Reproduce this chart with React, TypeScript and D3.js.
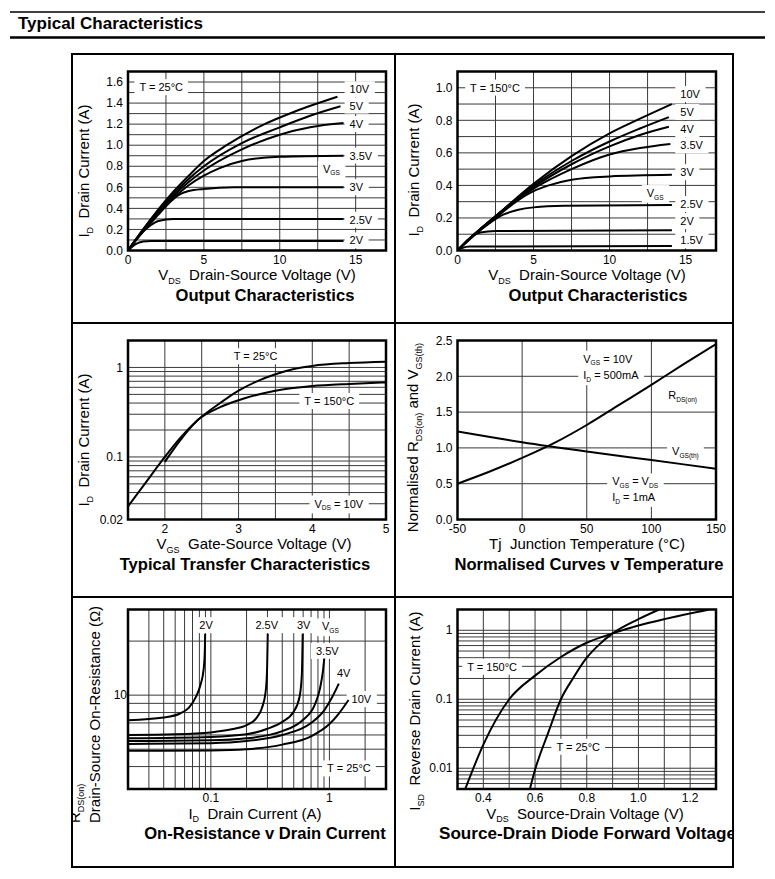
import React, { useRef, useEffect } from 'react';
import * as d3 from 'd3';

type Pt = [number, number];

// Output characteristics, T = 25°C : VDS (V) -> ID (A), one curve per VGS
const out25Vgs = ['10V', '5V', '4V', '3.5V', '3V', '2.5V', '2V'];
const out25_10V: Pt[] = [[0, 0], [1, 0.2], [2, 0.39], [3, 0.56], [4, 0.71], [5, 0.85], [6.5, 1.0], [9, 1.2], [11, 1.32], [13.8, 1.46]];
const out25_5V: Pt[] = [[0, 0], [1, 0.2], [2, 0.38], [3, 0.54], [4, 0.68], [5, 0.8], [7.5, 1.02], [10, 1.17], [12, 1.28], [14, 1.37]];
const out25_4V: Pt[] = [[0, 0], [1, 0.19], [2, 0.37], [3, 0.52], [4, 0.65], [5, 0.76], [7.5, 0.96], [10, 1.1], [12, 1.17], [14.2, 1.21]];
const out25_3V5: Pt[] = [[0, 0], [1, 0.19], [2, 0.36], [3, 0.5], [4, 0.62], [5, 0.71], [6, 0.78], [7.5, 0.85], [10, 0.89], [14.2, 0.9]];
const out25_3V: Pt[] = [[0, 0], [1, 0.18], [2, 0.34], [2.5, 0.42], [3, 0.49], [3.5, 0.54], [4, 0.565], [5, 0.585], [7, 0.6], [14.2, 0.6]];
const out25_2V5: Pt[] = [[0, 0], [0.5, 0.1], [1, 0.18], [1.5, 0.24], [2, 0.28], [3, 0.3], [14.2, 0.3]];
const out25_2V: Pt[] = [[0, 0], [0.5, 0.06], [1, 0.085], [1.5, 0.09], [14.2, 0.09]];
const out25Curves = [out25_10V, out25_5V, out25_4V, out25_3V5, out25_3V, out25_2V5, out25_2V];

// Output characteristics, T = 150°C
const out150Vgs = ['10V', '5V', '4V', '3.5V', '3V', '2.5V', '2V', '1.5V'];
const out150_10V: Pt[] = [[0, 0], [1, 0.09], [2.5, 0.21], [5, 0.41], [7.5, 0.58], [10, 0.72], [12, 0.81], [14.1, 0.9]];
const out150_5V: Pt[] = [[0, 0], [1, 0.09], [2.5, 0.21], [5, 0.4], [7.5, 0.55], [10, 0.67], [12, 0.75], [13.9, 0.82]];
const out150_4V: Pt[] = [[0, 0], [1, 0.09], [2.5, 0.21], [5, 0.39], [7.5, 0.53], [10, 0.64], [12, 0.71], [13.9, 0.76]];
const out150_3V5: Pt[] = [[0, 0], [1, 0.09], [2.5, 0.21], [5, 0.38], [7.5, 0.5], [10, 0.59], [12, 0.63], [14, 0.655]];
const out150_3V: Pt[] = [[0, 0], [1, 0.09], [2.5, 0.2], [4, 0.31], [5, 0.365], [6, 0.4], [7.5, 0.435], [10, 0.455], [14.1, 0.465]];
const out150_2V5: Pt[] = [[0, 0], [1, 0.085], [2, 0.16], [3, 0.22], [4, 0.25], [5, 0.265], [7, 0.275], [14.1, 0.28]];
const out150_2V: Pt[] = [[0, 0], [0.5, 0.05], [1, 0.09], [1.5, 0.11], [2.5, 0.12], [14.1, 0.125]];
const out150_1V5: Pt[] = [[0, 0], [0.3, 0.015], [0.8, 0.024], [14.1, 0.027]];
const out150Curves = [out150_10V, out150_5V, out150_4V, out150_3V5, out150_3V, out150_2V5, out150_2V, out150_1V5];

// Transfer characteristics, VDS = 10V : VGS (V) -> ID (A)
const transfer25: Pt[] = [[1.5, 0.028], [1.75, 0.053], [2, 0.1], [2.2, 0.16], [2.45, 0.26], [2.75, 0.4], [3, 0.55], [3.25, 0.7], [3.5, 0.84], [3.75, 0.96], [4, 1.04], [4.5, 1.12], [5, 1.16]];
const transfer150: Pt[] = [[2, 0.088], [2.2, 0.15], [2.45, 0.26], [2.75, 0.36], [3, 0.43], [3.5, 0.55], [4, 0.62], [4.5, 0.655], [5, 0.68]];

// Normalised curves : Tj (°C) -> normalised value
const normRds: Pt[] = [[-50, 0.5], [-25, 0.67], [0, 0.86], [25, 1.07], [50, 1.32], [75, 1.6], [100, 1.88], [125, 2.17], [150, 2.45]];
const normVgsTh: Pt[] = [[-50, 1.23], [0, 1.08], [50, 0.95], [100, 0.83], [150, 0.71]];

// On-resistance v drain current, T = 25°C : ID (A) -> RDS(on) (Ω)
const rds_2V: Pt[] = [[0.02, 7.25], [0.04, 7.5], [0.055, 7.9], [0.065, 8.5], [0.075, 9.8], [0.082, 11.5], [0.087, 14], [0.089, 18], [0.0895, 22]];
const rds_2V5: Pt[] = [[0.02, 6.0], [0.05, 6.05], [0.1, 6.2], [0.15, 6.45], [0.2, 6.8], [0.24, 7.4], [0.27, 8.5], [0.29, 10.5], [0.298, 14], [0.302, 22]];
const rds_3V: Pt[] = [[0.02, 5.75], [0.1, 5.85], [0.2, 6.05], [0.3, 6.5], [0.4, 7.1], [0.5, 8.1], [0.56, 9.8], [0.585, 13], [0.595, 22]];
const rds_3V5: Pt[] = [[0.02, 5.55], [0.1, 5.6], [0.2, 5.75], [0.4, 6.3], [0.6, 7.3], [0.75, 8.8], [0.83, 10.8], [0.88, 13.5], [0.905, 16]];
const rds_4V: Pt[] = [[0.02, 5.35], [0.1, 5.4], [0.2, 5.55], [0.4, 6.0], [0.7, 7.0], [0.9, 8.2], [1.05, 9.7], [1.2, 11.6]];
const rds_10V: Pt[] = [[0.02, 4.9], [0.1, 4.92], [0.2, 5.0], [0.4, 5.3], [0.7, 5.9], [1.0, 6.9], [1.2, 7.9], [1.45, 9.4]];
const rdsCurves = [rds_2V, rds_2V5, rds_3V, rds_3V5, rds_4V, rds_10V];

// Source-drain diode forward voltage : VSD (V) -> ISD (A)
const diode150: Pt[] = [[0.33, 0.005], [0.4, 0.022], [0.5, 0.1], [0.6, 0.22], [0.7, 0.41], [0.8, 0.66], [0.9, 0.9], [1.0, 1.17], [1.1, 1.45], [1.27, 1.98]];
const diode25: Pt[] = [[0.58, 0.005], [0.6, 0.0095], [0.65, 0.032], [0.7, 0.1], [0.75, 0.21], [0.8, 0.4], [0.85, 0.63], [0.9, 0.9], [1.0, 1.45], [1.08, 2.0]];

// tick labels
const outXTicks = [0, 5, 10, 15];
const out25YTicks = [0, 0.2, 0.4, 0.6, 0.8, 1.0, 1.2, 1.4, 1.6];
const out150YTicks = [0, 0.2, 0.4, 0.6, 0.8, 1.0];
const transferXTicks = [2, 3, 4, 5];
const transferYTicks = [0.02, 0.1, 1];
const tempXTicks = [-50, 0, 50, 100, 150];
const tempYTicks = [0, 0.5, 1.0, 1.5, 2.0, 2.5];
const rdsXTicks = [0.1, 1];
const rdsYTicks = [10];
const diodeXTicks = [0.4, 0.6, 0.8, 1.0, 1.2];
const diodeYTicks = [0.01, 0.1, 1];

const FONT = '"Liberation Sans", Arial, Helvetica, sans-serif';

type Sel = d3.Selection<any, unknown, null, undefined>;

function rich(t: Sel, str: string, size: number) {
  const parts = str.split(/(_\{[^}]*\})/).filter((s) => s.length > 0);
  let down = false;
  parts.forEach((p) => {
    if (p.startsWith('_{')) {
      t.append('tspan').attr('font-size', size * 0.6).attr('dy', size * 0.25).text(p.slice(2, -1));
      down = true;
    } else {
      const s = t.append('tspan').text(p);
      if (down) s.attr('dy', -size * 0.25);
      down = false;
    }
  });
}

function label(g: Sel, px: number, py: number, str: string, anchor = 'start', size = 11) {
  const grp = g.append('g');
  const t = grp.append('text')
    .attr('x', px).attr('y', py).attr('dy', '0.35em')
    .attr('text-anchor', anchor).attr('font-size', size)
    .style('white-space', 'pre');
  rich(t, str, size);
  const bb = (t.node() as SVGTextElement).getBBox();
  grp.insert('rect', 'text')
    .attr('x', bb.x - 5).attr('y', bb.y - 2)
    .attr('width', bb.width + 10).attr('height', bb.height + 4)
    .attr('fill', '#fff');
}

interface Lbl { x: number; y: number; text: string; anchor?: string }
interface TitleLine { text: string; x: number; y: number; anchor: string }

interface PanelCfg {
  cell: [number, number, number, number];
  x: any;
  y: any;
  xGrid: number[];
  yGrid: number[];
  xTicks: number[];
  xFmt: (v: number) => string;
  yTicks: number[];
  yFmt: (v: number) => string;
  yTickDx?: number;
  curves: Pt[][];
  labels: Lbl[];
  xTitle: string;
  xTitleX: number;
  yTitle: TitleLine[];
  title: string;
  titleX: number;
  titleAnchor?: string;
  titleSize?: number;
}

let clipCount = 0;

function drawPanel(root: Sel, p: PanelCfg) {
  const [x0, x1] = p.x.range();
  const [y1, y0] = p.y.range();
  const id = `cell${clipCount++}`;
  const [cx0, cy0, cx1, cy1] = p.cell;
  root.append('clipPath').attr('id', id).append('rect')
    .attr('x', cx0).attr('y', cy0).attr('width', cx1 - cx0).attr('height', cy1 - cy0);
  const g = root.append('g').attr('clip-path', `url(#${id})`);

  g.append('g').selectAll('line').data(p.xGrid).join('line')
    .attr('x1', (d) => p.x(d)).attr('x2', (d) => p.x(d))
    .attr('y1', y0).attr('y2', y1)
    .attr('stroke', '#3a3a3a').attr('stroke-width', 1);
  g.append('g').selectAll('line').data(p.yGrid).join('line')
    .attr('y1', (d) => p.y(d)).attr('y2', (d) => p.y(d))
    .attr('x1', x0).attr('x2', x1)
    .attr('stroke', '#3a3a3a').attr('stroke-width', 1);

  p.labels.forEach((l) => label(g, p.x(l.x), p.y(l.y), l.text, l.anchor ?? 'start'));

  const pid = `plot${clipCount++}`;
  root.append('clipPath').attr('id', pid).append('rect')
    .attr('x', x0).attr('y', y0).attr('width', x1 - x0).attr('height', y1 - y0);
  const line = d3.line<Pt>()
    .x((d) => p.x(d[0]))
    .y((d) => p.y(d[1]))
    .curve(d3.curveMonotoneX);
  g.append('g').attr('clip-path', `url(#${pid})`)
    .selectAll('path').data(p.curves).join('path')
    .attr('d', (d) => line(d))
    .attr('fill', 'none').attr('stroke', '#000').attr('stroke-width', 2)
    .attr('stroke-linejoin', 'round');

  g.append('rect')
    .attr('x', x0).attr('y', y0).attr('width', x1 - x0).attr('height', y1 - y0)
    .attr('fill', 'none').attr('stroke', '#000').attr('stroke-width', 2.5);

  g.append('g').selectAll('text').data(p.xTicks).join('text')
    .attr('x', (d) => p.x(d)).attr('y', y1 + 13)
    .attr('text-anchor', 'middle').attr('font-size', 12)
    .text((d) => p.xFmt(d));
  g.append('g').selectAll('text').data(p.yTicks).join('text')
    .attr('x', x0 - 5 + (p.yTickDx ?? 0)).attr('y', (d) => p.y(d)).attr('dy', '0.35em')
    .attr('text-anchor', 'end').attr('font-size', 12)
    .text((d) => p.yFmt(d));

  const xt = g.append('text')
    .attr('x', p.xTitleX).attr('y', y1 + 29.5)
    .attr('text-anchor', 'middle').attr('font-size', 15)
    .style('white-space', 'pre');
  rich(xt, p.xTitle, 15);

  p.yTitle.forEach((yl) => {
    const yt = g.append('text')
      .attr('transform', `translate(${yl.x},${yl.y}) rotate(-90)`)
      .attr('text-anchor', yl.anchor).attr('font-size', 15)
      .style('white-space', 'pre');
    rich(yt, yl.text, 15);
  });

  g.append('text')
    .attr('x', p.titleX).attr('y', y1 + 50)
    .attr('text-anchor', p.titleAnchor ?? 'middle')
    .attr('font-size', p.titleSize ?? 16.6).attr('font-weight', 'bold')
    .text(p.title);
}

const logGrid = (s: any) => {
  const [a, b] = s.domain();
  return s.ticks().filter((v: number) => v > a * 1.001 && v < b * 0.999);
};

export default function App() {
  const ref = useRef<SVGSVGElement | null>(null);

  useEffect(() => {
    const svg = d3.select(ref.current!);
    svg.selectAll('*').remove();
    clipCount = 0;

    const BOX = { l: 72, r: 733, t: 54, b: 867, mx: 395, r1: 323, r2: 597 };
    const colL = [128, 386];
    const colR = [457.5, 716];
    const row1 = [250.5, 71.5];
    const row2 = [519.5, 340.5];
    const row3 = [789, 609.5];

    // header
    svg.append('line').attr('x1', 10).attr('x2', 765).attr('y1', 12).attr('y2', 12)
      .attr('stroke', '#000').attr('stroke-width', 1.6);
    svg.append('text').attr('x', 18).attr('y', 29).attr('font-size', 17).attr('font-weight', 'bold')
      .text('Typical Characteristics');
    svg.append('line').attr('x1', 10).attr('x2', 765).attr('y1', 37.5).attr('y2', 37.5)
      .attr('stroke', '#000').attr('stroke-width', 2.5);

    const f1 = (v: number) => v.toFixed(1);
    const f0 = (v: number) => String(v);

    // 1. Output characteristics 25°C
    const x1 = d3.scaleLinear().domain([0, 17]).range(colL);
    const y1 = d3.scaleLinear().domain([0, 1.7]).range(row1);
    const out25LabelY = [1.53, 1.375, 1.2, 0.9, 0.6, 0.29, 0.095];
    drawPanel(svg, {
      cell: [BOX.l, BOX.t, BOX.mx, BOX.r1],
      x: x1, y: y1,
      xGrid: [2.5, 5, 7.5, 10, 12.5, 15],
      yGrid: d3.range(1, 17).map((i) => i / 10),
      xTicks: outXTicks, xFmt: f0,
      yTicks: out25YTicks, yFmt: f1,
      curves: out25Curves,
      labels: [
        { x: 0.75, y: 1.55, text: 'T = 25°C' },
        { x: 13.4, y: 0.775, text: 'V_{GS}', anchor: 'middle' },
        ...out25Vgs.map((v, i) => ({ x: 14.6, y: out25LabelY[i], text: v })),
      ],
      xTitle: 'V_{DS}  Drain-Source Voltage (V)', xTitleX: 257,
      yTitle: [{ text: 'I_{D}  Drain Current (A)', x: 89, y: 171, anchor: 'middle' }],
      title: 'Output Characteristics', titleX: 265,
    });

    // 2. Output characteristics 150°C
    const x2 = d3.scaleLinear().domain([0, 17]).range(colR);
    const y2 = d3.scaleLinear().domain([0, 1.1]).range(row1);
    const out150LabelY = [0.96, 0.85, 0.745, 0.645, 0.48, 0.285, 0.18, 0.062];
    drawPanel(svg, {
      cell: [BOX.mx, BOX.t, BOX.r, BOX.r1],
      x: x2, y: y2,
      xGrid: [2.5, 5, 7.5, 10, 12.5, 15],
      yGrid: d3.range(1, 11).map((i) => i / 10),
      xTicks: outXTicks, xFmt: f0,
      yTicks: out150YTicks, yFmt: f1,
      curves: out150Curves,
      labels: [
        { x: 0.83, y: 1.0, text: 'T = 150°C' },
        { x: 13.0, y: 0.352, text: 'V_{GS}', anchor: 'middle' },
        ...out150Vgs.map((v, i) => ({ x: 14.65, y: out150LabelY[i], text: v })),
      ],
      xTitle: 'V_{DS}  Drain-Source Voltage (V)', xTitleX: 587,
      yTitle: [{ text: 'I_{D}  Drain Current (A)', x: 419, y: 170, anchor: 'middle' }],
      title: 'Output Characteristics', titleX: 598,
    });

    // 3. Transfer characteristics
    const x3 = d3.scaleLinear().domain([1.5, 5]).range(colL);
    const y3 = d3.scaleLog().domain([0.02, 2]).range(row2);
    drawPanel(svg, {
      cell: [BOX.l, BOX.r1, BOX.mx, BOX.r2],
      x: x3, y: y3,
      xGrid: [2, 2.5, 3, 3.5, 4, 4.5],
      yGrid: logGrid(y3),
      xTicks: transferXTicks, xFmt: f0,
      yTicks: transferYTicks, yFmt: f0,
      curves: [transfer25, transfer150],
      labels: [
        { x: 3.23, y: 1.33, text: 'T = 25°C', anchor: 'middle' },
        { x: 4.23, y: 0.42, text: 'T = 150°C', anchor: 'middle' },
        { x: 4.36, y: 0.03, text: 'V_{DS} = 10V', anchor: 'middle' },
      ],
      xTitle: 'V_{GS}  Gate-Source Voltage (V)', xTitleX: 254,
      yTitle: [{ text: 'I_{D}  Drain Current (A)', x: 89, y: 440, anchor: 'middle' }],
      title: 'Typical Transfer Characteristics', titleX: 245,
    });

    // 4. Normalised curves v temperature
    const x4 = d3.scaleLinear().domain([-50, 150]).range(colR);
    const y4 = d3.scaleLinear().domain([0, 2.5]).range(row2);
    drawPanel(svg, {
      cell: [BOX.mx, BOX.r1, BOX.r, BOX.r2],
      x: x4, y: y4,
      xGrid: [0, 50, 100],
      yGrid: [0.5, 1, 1.5, 2],
      xTicks: tempXTicks, xFmt: f0,
      yTicks: tempYTicks, yFmt: f1,
      curves: [normRds, normVgsTh],
      labels: [
        { x: 47.3, y: 2.245, text: 'V_{GS} = 10V' },
        { x: 47.3, y: 2.01, text: 'I_{D} = 500mA' },
        { x: 113, y: 1.73, text: 'R_{DS(on)}' },
        { x: 116, y: 0.95, text: 'V_{GS(th)}' },
        { x: 69.7, y: 0.53, text: 'V_{GS} = V_{DS}' },
        { x: 69.7, y: 0.31, text: 'I_{D} = 1mA' },
      ],
      xTitle: 'Tj  Junction Temperature (°C)', xTitleX: 587,
      yTitle: [{ text: 'Normalised R_{DS(on)} and V_{GS(th)}', x: 418, y: 437.5, anchor: 'middle' }],
      title: 'Normalised Curves v Temperature', titleX: 589,
    });

    // 5. On-resistance v drain current
    const x5 = d3.scaleLog().domain([0.02, 3]).range(colL);
    const y5 = d3.scaleLog().domain([3, 30]).range(row3);
    drawPanel(svg, {
      cell: [BOX.l, BOX.r2, BOX.mx, BOX.b],
      x: x5, y: y5,
      xGrid: logGrid(x5),
      yGrid: logGrid(y5),
      xTicks: rdsXTicks, xFmt: f0,
      yTicks: rdsYTicks, yFmt: f0, yTickDx: 4,
      curves: rdsCurves,
      labels: [
        { x: 0.091, y: 24.5, text: '2V', anchor: 'middle' },
        { x: 0.296, y: 24.5, text: '2.5V', anchor: 'middle' },
        { x: 0.606, y: 24.5, text: '3V', anchor: 'middle' },
        { x: 1.02, y: 24.1, text: 'V_{GS}', anchor: 'middle' },
        { x: 0.96, y: 17.6, text: '3.5V', anchor: 'middle' },
        { x: 1.32, y: 13.2, text: '4V', anchor: 'middle' },
        { x: 1.86, y: 9.48, text: '10V', anchor: 'middle' },
        { x: 1.46, y: 3.9, text: 'T = 25°C', anchor: 'middle' },
      ],
      xTitle: 'I_{D}  Drain Current (A)', xTitleX: 255,
      yTitle: [
        { text: 'R_{DS(on)}', x: 80, y: 823, anchor: 'start' },
        { text: 'Drain-Source On-Resistance (Ω)', x: 100, y: 823, anchor: 'start' },
      ],
      title: 'On-Resistance v Drain Current', titleX: 265,
    });

    // 6. Source-drain diode forward voltage
    const x6 = d3.scaleLinear().domain([0.3, 1.3]).range(colR);
    const y6 = d3.scaleLog().domain([0.005, 2]).range(row3);
    drawPanel(svg, {
      cell: [BOX.mx, BOX.r2, BOX.r, BOX.b],
      x: x6, y: y6,
      xGrid: d3.range(4, 13).map((i) => i / 10),
      yGrid: logGrid(y6),
      xTicks: diodeXTicks, xFmt: f1,
      yTicks: diodeYTicks, yFmt: f0,
      curves: [diode150, diode25],
      labels: [
        { x: 0.434, y: 0.295, text: 'T = 150°C', anchor: 'middle' },
        { x: 0.767, y: 0.0204, text: 'T = 25°C', anchor: 'middle' },
      ],
      xTitle: 'V_{DS}  Source-Drain Voltage (V)', xTitleX: 585,
      yTitle: [{ text: 'I_{SD}  Reverse Drain Current (A)', x: 420, y: 711, anchor: 'middle' }],
      title: 'Source-Drain Diode Forward Voltage', titleX: 439, titleAnchor: 'start', titleSize: 17.1,
    });

    // outer box and dividers
    svg.append('rect').attr('x', BOX.l).attr('y', BOX.t)
      .attr('width', BOX.r - BOX.l).attr('height', BOX.b - BOX.t)
      .attr('fill', 'none').attr('stroke', '#000').attr('stroke-width', 2);
    svg.append('line').attr('x1', BOX.mx).attr('x2', BOX.mx).attr('y1', BOX.t).attr('y2', BOX.b)
      .attr('stroke', '#000').attr('stroke-width', 2);
    [BOX.r1, BOX.r2].forEach((yy) => {
      svg.append('line').attr('x1', BOX.l).attr('x2', BOX.r).attr('y1', yy).attr('y2', yy)
        .attr('stroke', '#000').attr('stroke-width', 2);
    });
  }, []);

  return (
    <svg
      ref={ref}
      width={775}
      height={879}
      style={{ position: 'absolute', left: 0, top: 0, background: '#fff' }}
      fontFamily={FONT}
    />
  );
}
